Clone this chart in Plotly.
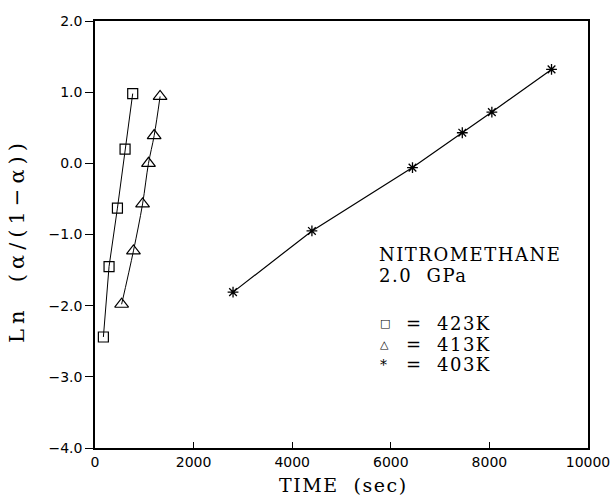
import plotly.graph_objects as go

# Data (time in s, ln(alpha/(1-alpha)))
t_423 = [170, 285, 455, 610, 765]
y_423 = [-2.44, -1.45, -0.63, 0.20, 0.98]

t_413 = [540, 780, 965, 1085, 1200, 1320]
y_413 = [-1.98, -1.23, -0.57, 0.00, 0.39, 0.94]

t_403 = [2800, 4400, 6440, 7450, 8050, 9260]
y_403 = [-1.81, -0.95, -0.06, 0.43, 0.72, 1.32]

x_ticks = [0, 2000, 4000, 6000, 8000, 10000]
y_ticks = [-4.0, -3.0, -2.0, -1.0, 0.0, 1.0, 2.0]

legend_symbols = ["\u25a1", "\u25b3", "*"]
legend_labels = ["423K", "413K", "403K"]

fig = go.Figure()
fig.add_trace(go.Scatter(
    x=t_423, y=y_423, mode="lines+markers",
    line=dict(color="black", width=1),
    marker=dict(symbol="square-open", size=10, color="black", line=dict(width=1.2)),
))
fig.add_trace(go.Scatter(
    x=t_413, y=y_413, mode="lines+markers",
    line=dict(color="black", width=1, shape="spline"),
    marker=dict(symbol="triangle-up-open", size=12, color="black", line=dict(width=1.2)),
))
fig.add_trace(go.Scatter(
    x=t_403, y=y_403, mode="lines+markers",
    line=dict(color="black", width=1.2),
    marker=dict(symbol="asterisk-open", size=9, color="black", line=dict(width=1.3)),
))

serif = "DejaVu Serif"


def sp(text, ls):
    return '<span style="letter-spacing:%spx">%s</span>' % (ls, text)


annots = [
    dict(text=sp("NITROMETHANE", 1.5), x=0.572, y=0.452, size=18),
    dict(text=sp("2.0  GPa", 1.5), x=0.572, y=0.403, size=18),
]
for i, (sym, lab) in enumerate(zip(legend_symbols, legend_labels)):
    yy = 0.291 - i * 0.048
    annots.append(dict(text=sym, x=0.575, y=yy, size=11 if i < 2 else 14))
    annots.append(dict(text="=", x=0.627, y=yy, size=18))
    annots.append(dict(text=sp(lab, 1.5), x=0.69, y=yy, size=18))
for a in annots:
    size = a.pop("size")
    a.update(xref="paper", yref="paper", xanchor="left", yanchor="middle",
             showarrow=False, font=dict(family=serif, size=size, color="black"))

# axis titles
annots.append(dict(text=sp("TIME  (sec)", 1.5), x=0.505, y=-0.086, xref="paper", yref="paper",
                   xanchor="center", yanchor="middle", showarrow=False,
                   font=dict(family=serif, size=19, color="black")))
annots.append(dict(text=sp("Ln  (\u03b1/(1\u2212\u03b1))", 5), x=-0.158, y=0.485,
                   xref="paper", yref="paper", textangle=-90,
                   xanchor="center", yanchor="middle", showarrow=False,
                   font=dict(family=serif, size=21, color="black")))

fig.update_layout(
    width=614, height=496,
    margin=dict(l=95, r=26, t=21, b=48),
    paper_bgcolor="white", plot_bgcolor="white",
    showlegend=False,
    annotations=annots,
    xaxis=dict(
        range=[0, 10000], tickvals=x_ticks, tickformat="d", automargin=False,
        ticks="inside", ticklen=6, tickwidth=1, tickcolor="black",
        showline=True, linecolor="black", linewidth=1.5, mirror=True,
        showgrid=False, zeroline=False,
        tickfont=dict(family="DejaVu Sans", size=14, color="black"),
    ),
    yaxis=dict(
        range=[-4, 2], tickvals=y_ticks, tickformat=".1f", automargin=False,
        ticks="outside", ticklen=8, tickwidth=1, tickcolor="black",
        showline=True, linecolor="black", linewidth=1.5, mirror=True,
        showgrid=False, zeroline=False,
        tickfont=dict(family="DejaVu Sans", size=14, color="black"),
    ),
)

fig.write_html(
    "out.html",
    config={"displayModeBar": False},
    post_script="document.body.style.margin='0';document.body.style.overflow='hidden';",
)
